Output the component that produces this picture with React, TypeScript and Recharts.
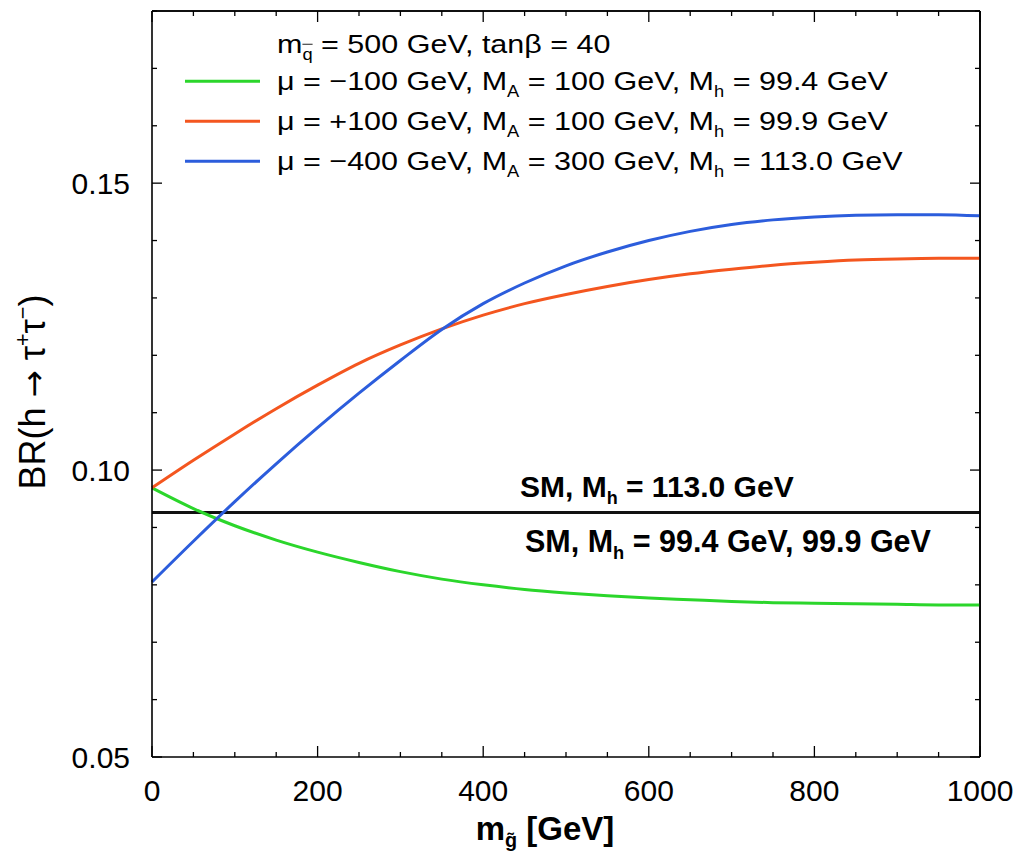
import { LineChart, Line, XAxis, YAxis, ReferenceLine } from 'recharts'

// gluino mass grid [GeV]
const mGluino = [0, 50, 100, 150, 200, 250, 300, 350, 400, 450, 500, 550, 600, 650, 700, 750, 800, 850, 900, 950, 1000]

// BR(h -> tau tau) for the three MSSM scenarios
const brMuM100 = [0.0969, 0.0933, 0.0903, 0.0878, 0.0857, 0.0839, 0.0823, 0.081, 0.08, 0.0792, 0.0786, 0.0781, 0.0777, 0.0774, 0.0771, 0.0769, 0.0768, 0.0767, 0.0766, 0.0765, 0.0765]
const brMuP100 = [0.0969, 0.1017, 0.1063, 0.1107, 0.1148, 0.1186, 0.1218, 0.1246, 0.127, 0.129, 0.1306, 0.132, 0.1332, 0.1342, 0.135, 0.1357, 0.1362, 0.1366, 0.1368, 0.1369, 0.1369]
const brMuM400 = [0.0805, 0.0876, 0.0945, 0.1011, 0.1074, 0.1134, 0.1191, 0.1245, 0.129, 0.1326, 0.1356, 0.138, 0.14, 0.1416, 0.1428, 0.1436, 0.1441, 0.1444, 0.1445, 0.1445, 0.1443]

// SM value (same line for M_h = 113.0 and 99.4 / 99.9 GeV)
const brSM = 0.0926

const xTicks = [0, 50, 100, 150, 200, 250, 300, 350, 400, 450, 500, 550, 600, 650, 700, 750, 800, 850, 900, 950, 1000]
const xLabels = [0, 200, 400, 600, 800, 1000]
const yTicks = [0.05, 0.06, 0.07, 0.08, 0.09, 0.1, 0.11, 0.12, 0.13, 0.14, 0.15, 0.16, 0.17, 0.18]
const yLabels = [0.05, 0.1, 0.15]

const GREEN = '#2bd62b'
const RED = '#f4561f'
const BLUE = '#2c5ddc'
const FONT = '"Liberation Sans", Arial, Helvetica, sans-serif'

const data = mGluino.map((m, i) => ({
  m,
  muM100: brMuM100[i],
  muP100: brMuP100[i],
  muM400: brMuM400[i],
}))

const isYMajor = (v: number) => yLabels.some((l) => Math.abs(l - v) < 1e-6)
const isXMajor = (v: number) => xLabels.includes(v)

function BottomTick({ x, y, payload }: any) {
  const major = isXMajor(payload.value)
  return (
    <g>
      <line x1={x} x2={x} y1={y} y2={y - (major ? 11 : 5)} stroke="#000" strokeWidth={1.3} />
      {major && (
        <text x={x} y={y + 44} textAnchor="middle" fontSize={30} fontFamily={FONT} fill="#000">
          {payload.value}
        </text>
      )}
    </g>
  )
}

function TopTick({ x, y, payload }: any) {
  const major = isXMajor(payload.value)
  return <line x1={x} x2={x} y1={y} y2={y + (major ? 11 : 5)} stroke="#000" strokeWidth={1.3} />
}

function LeftTick({ x, y, payload }: any) {
  const major = isYMajor(payload.value)
  return (
    <g>
      <line x1={x} x2={x + (major ? 10 : 5)} y1={y} y2={y} stroke="#000" strokeWidth={1.3} />
      {major && (
        <text x={x - 22} y={y + 11} textAnchor="end" fontSize={30} fontFamily={FONT} fill="#000">
          {payload.value.toFixed(2)}
        </text>
      )}
    </g>
  )
}

function RightTick({ x, y, payload }: any) {
  const major = isYMajor(payload.value)
  return <line x1={x} x2={x - (major ? 10 : 5)} y1={y} y2={y} stroke="#000" strokeWidth={1.3} />
}

const sub = (s: string, bar?: boolean) => (
  <span style={{ fontSize: '0.6em', verticalAlign: '-0.4em', lineHeight: 0, textDecoration: bar ? 'overline' : 'none' }}>{s}</span>
)
const sup = (s: string) => (
  <span style={{ fontSize: '0.6em', verticalAlign: '0.7em', lineHeight: 0 }}>{s}</span>
)

const legendItems = [
  { color: GREEN, mu: '\u2212100', ma: '100', mh: '99.4' },
  { color: RED, mu: '+100', ma: '100', mh: '99.9' },
  { color: BLUE, mu: '\u2212400', ma: '300', mh: '113.0' },
]

const legendText = { fontSize: 30.5, whiteSpace: 'nowrap' as const, lineHeight: 1, display: 'inline-block', transform: 'scaleY(0.86)' }

export default function App() {
  const axisLine = { stroke: '#000', strokeWidth: 1.6 }
  return (
    <div style={{ position: 'absolute', left: 0, top: 0, width: 1021, height: 856, background: '#fff', fontFamily: FONT }}>
      <LineChart width={1021} height={856} data={data} margin={{ top: 10, right: 40, bottom: 0, left: 0 }}>
        <XAxis
          dataKey="m"
          type="number"
          domain={[0, 1000]}
          ticks={xTicks}
          interval={0}
          height={99}
          tickLine={false}
          tickSize={0}
          tickMargin={0}
          axisLine={axisLine}
          tick={(p: any) => <BottomTick {...p} />}
        />
        <XAxis
          xAxisId="top"
          orientation="top"
          dataKey="m"
          type="number"
          domain={[0, 1000]}
          ticks={xTicks}
          interval={0}
          height={1}
          tickLine={false}
          tickSize={0}
          tickMargin={0}
          axisLine={axisLine}
          tick={(p: any) => <TopTick {...p} />}
        />
        <YAxis
          type="number"
          domain={[0.05, 0.18]}
          ticks={yTicks}
          interval={0}
          width={152}
          tickLine={false}
          tickSize={0}
          tickMargin={0}
          axisLine={axisLine}
          tick={(p: any) => <LeftTick {...p} />}
        />
        <YAxis
          yAxisId="right"
          orientation="right"
          type="number"
          domain={[0.05, 0.18]}
          ticks={yTicks}
          interval={0}
          width={1}
          tickLine={false}
          tickSize={0}
          tickMargin={0}
          axisLine={axisLine}
          tick={(p: any) => <RightTick {...p} />}
        />
        {/* frame on top and right */}
        <ReferenceLine y={0.18} stroke="#000" strokeWidth={1.6} />
        <ReferenceLine x={1000} stroke="#000" strokeWidth={1.6} />
        <ReferenceLine y={brSM} stroke="#111" strokeWidth={3} />
        {/* green curve is bound to the mirrored axes (same domains) so they draw their ticks */}
        <Line xAxisId="top" yAxisId="right" type="monotone" dataKey="muM100" stroke={GREEN} strokeWidth={3} dot={false} isAnimationActive={false} />
        <Line type="monotone" dataKey="muP100" stroke={RED} strokeWidth={3} dot={false} isAnimationActive={false} />
        <Line type="monotone" dataKey="muM400" stroke={BLUE} strokeWidth={3} dot={false} isAnimationActive={false} />
      </LineChart>

      {/* legend */}
      <div style={{ position: 'absolute', left: 277, top: 44, transform: 'translateY(-50%)' }}>
        <span style={legendText}>
          m{sub('q', true)} = 500 GeV, tan&beta; = 40
        </span>
      </div>
      {legendItems.map((it, i) => (
        <div key={i} style={{ position: 'absolute', left: 185, top: 81 + i * 40, transform: 'translateY(-50%)', display: 'flex', alignItems: 'center' }}>
          <span style={{ display: 'inline-block', width: 75, height: 3, background: it.color, marginRight: 17 }} />
          <span style={legendText}>
            &mu; = {it.mu} GeV, M{sub('A')} = {it.ma} GeV, M{sub('h')} = {it.mh} GeV
          </span>
        </div>
      ))}

      {/* SM annotations */}
      <div style={{ position: 'absolute', left: 520, top: 487, transform: 'translateY(-50%)', fontSize: 30, fontWeight: 'bold', whiteSpace: 'nowrap', lineHeight: 1 }}>
        SM, M{sub('h')} = 113.0 GeV
      </div>
      <div style={{ position: 'absolute', left: 525, top: 541, transform: 'translateY(-50%)', fontSize: 30.5, fontWeight: 'bold', whiteSpace: 'nowrap', lineHeight: 1 }}>
        SM, M{sub('h')} = 99.4 GeV, 99.9 GeV
      </div>

      {/* axis titles */}
      <div style={{ position: 'absolute', left: 545, top: 828, transform: 'translate(-50%, -50%)', fontSize: 33, fontWeight: 'bold', whiteSpace: 'nowrap', lineHeight: 1 }}>
        m{sub('g\u0303')} [GeV]
      </div>
      <div style={{ position: 'absolute', left: 33, top: 392, transform: 'translate(-50%, -50%) rotate(-90deg)', fontSize: 36, whiteSpace: 'nowrap', lineHeight: 1 }}>
        BR(h <span style={{ fontFamily: '"DejaVu Sans", sans-serif', fontSize: '0.9em' }}>&rarr;</span> &tau;{sup('+')}&tau;{sup('\u2212')})
      </div>
    </div>
  )
}
